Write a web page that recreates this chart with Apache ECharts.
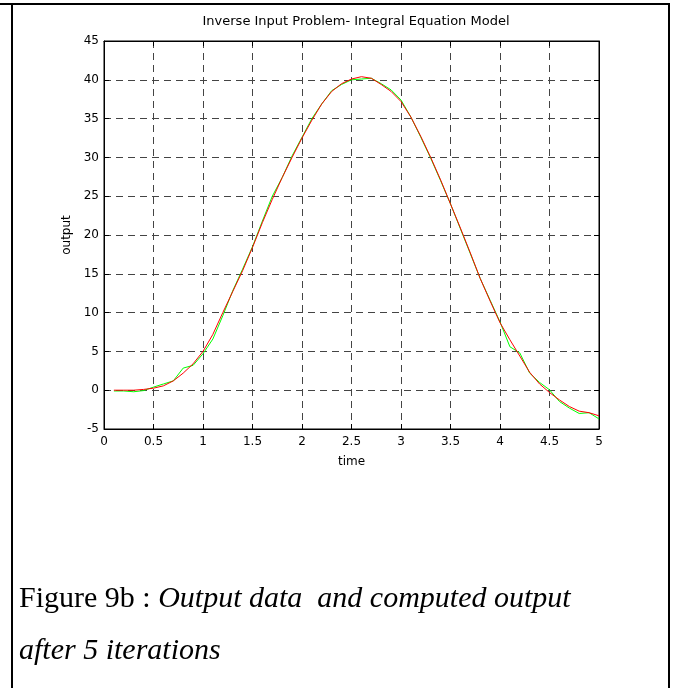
<!DOCTYPE html>
<html>
<head>
<meta charset="utf-8">
<script src="https://cdn.jsdelivr.net/npm/echarts@6/dist/echarts.min.js"></script>
<style>
html,body{margin:0;padding:0;background:#fff;}
#chart{width:674px;height:688px;}
</style>
</head>
<body>
<div id="chart"></div>
<script>
const times = [0.1,0.2,0.3,0.4,0.5,0.6,0.7,0.8,0.9,1.0,1.1,1.2,1.3,1.4,1.5,1.6,1.7,1.8,1.9,2.0,2.1,2.2,2.3,2.4,2.5,2.6,2.7,2.8,2.9,3.0,3.1,3.2,3.3,3.4,3.5,3.6,3.7,3.8,3.9,4.0,4.1,4.2,4.3,4.4,4.5,4.6,4.7,4.8,4.9,5.0];
const outputData = [-0.1,-0.1,-0.2,-0.05,0.4,0.8,1.2,2.85,3.2,4.7,6.6,9.6,12.8,15.6,18.5,21.8,25.0,27.4,30.2,32.6,35.0,36.9,38.6,39.4,40.0,40.1,40.2,39.5,38.7,37.4,35.2,32.6,29.9,27.0,24.0,20.8,17.6,14.4,11.6,8.8,5.6,4.8,2.2,1.0,0.05,-1.45,-2.3,-3.0,-2.9,-3.7];
const computedOutput = [0.0,0.0,0.0,0.1,0.26,0.56,1.2,2.2,3.4,5.0,7.2,10.0,12.7,15.4,18.4,21.6,24.6,27.4,30.0,32.5,34.8,36.9,38.5,39.5,40.1,40.4,40.2,39.4,38.5,37.2,35.2,32.7,30.0,27.1,24.0,20.9,17.7,14.4,11.5,8.7,6.5,4.4,2.3,0.8,-0.3,-1.25,-2.1,-2.7,-2.9,-3.3];
const chartTitle = 'Inverse Input Problem- Integral Equation Model';
const xName = 'time';
const yName = 'output';
const captionPlain = 'Figure 9b : ';
const captionItalic1 = 'Output data  and computed output';
const captionItalic2 = 'after 5 iterations';

const pair = (ys) => times.map((t, i) => [t, ys[i]]);
const font = 'DejaVu Sans, Arial, sans-serif';
const serif = 'Liberation Serif, Times New Roman, serif';
const gridLine = { show: true, lineStyle: { color: '#444', width: 1, type: [7, 5] } };
const axisLineStyle = { show: true, onZero: false, lineStyle: { color: '#000', width: 1 } };
const tickStyle = { show: true, inside: true, length: 5, lineStyle: { color: '#000' } };

const chart = echarts.init(document.getElementById('chart'), null, { renderer: 'canvas' });
chart.setOption({
  animation: false,
  backgroundColor: '#fff',
  title: {
    text: chartTitle, left: 351, top: 10, textAlign: 'center',
    textStyle: { fontFamily: font, fontSize: 13, fontWeight: 'normal', color: '#000' }
  },
  grid: { left: 104, right: 75, top: 41, bottom: 259, show: true, borderColor: '#000', borderWidth: 1, containLabel: false },
  xAxis: [{
    type: 'value', min: 0, max: 5, interval: 0.5,
    name: xName, nameLocation: 'middle', nameGap: 27,
    nameTextStyle: { fontFamily: font, fontSize: 12, color: '#000' },
    axisLine: axisLineStyle, axisTick: tickStyle,
    axisLabel: { fontFamily: font, fontSize: 12, color: '#000', margin: 7 },
    splitLine: gridLine
  }, {
    type: 'value', min: 0, max: 5, interval: 0.5, position: 'top',
    axisLine: axisLineStyle, axisTick: tickStyle,
    axisLabel: { show: false }, splitLine: { show: false }
  }],
  yAxis: [{
    type: 'value', min: -5, max: 45, interval: 5,
    name: yName, nameLocation: 'middle', nameGap: 31, nameRotate: 90,
    nameTextStyle: { fontFamily: font, fontSize: 12, color: '#000' },
    axisLine: axisLineStyle, axisTick: tickStyle,
    axisLabel: { fontFamily: font, fontSize: 12, color: '#000', margin: 5 },
    splitLine: gridLine
  }, {
    type: 'value', min: -5, max: 45, interval: 5, position: 'right',
    axisLine: axisLineStyle, axisTick: tickStyle,
    axisLabel: { show: false }, splitLine: { show: false }
  }],
  series: [
    { type: 'line', data: pair(outputData), showSymbol: false, symbol: 'none',
      lineStyle: { color: '#00ff00', width: 1 }, z: 3 },
    { type: 'line', data: pair(computedOutput), showSymbol: false, symbol: 'none',
      lineStyle: { color: '#ff0000', width: 1 }, z: 4 }
  ],
  graphic: [
    { type: 'line', shape: { x1: 0, y1: 4, x2: 670, y2: 4 }, style: { stroke: '#000', lineWidth: 2 } },
    { type: 'line', shape: { x1: 12, y1: 4, x2: 12, y2: 688 }, style: { stroke: '#000', lineWidth: 2 } },
    { type: 'line', shape: { x1: 669, y1: 4, x2: 669, y2: 688 }, style: { stroke: '#000', lineWidth: 2 } },
    { type: 'text', left: 19, top: 584,
      style: {
        text: '{a|' + captionPlain + '}{b|' + captionItalic1 + '}',
        rich: {
          a: { fontFamily: serif, fontSize: 30, fill: '#000', color: '#000' },
          b: { fontFamily: serif, fontSize: 30, fontStyle: 'italic', fill: '#000', color: '#000' }
        }
      } },
    { type: 'text', left: 19, top: 636,
      style: { text: captionItalic2, fontFamily: serif, fontSize: 30, fontStyle: 'italic', fill: '#000' } }
  ]
});
</script>
</body>
</html>
